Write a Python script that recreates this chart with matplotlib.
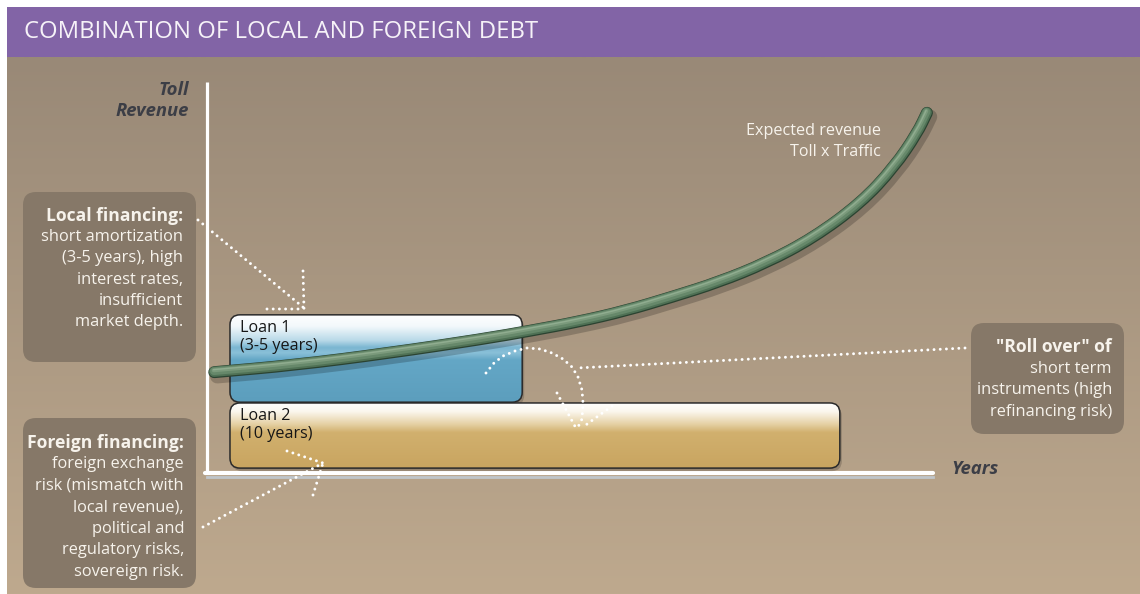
import numpy as np
import matplotlib
matplotlib.use("Agg")
import matplotlib.pyplot as plt
from matplotlib.patches import FancyBboxPatch, Rectangle, PathPatch
from matplotlib.path import Path
import matplotlib.transforms as mtransforms
from matplotlib.colors import to_rgb

# ---------------- data ----------------
title = "COMBINATION OF LOCAL AND FOREIGN DEBT"
y_label = ["Toll", "Revenue"]
x_label = "Years"

curve_years = [0.12, 1.44, 3.01, 4.56, 5.34, 6.13, 6.91, 7.69, 8.46, 9.24,
               10.02, 10.81, 11.36, 11.74, 11.90]
curve_revenue = [25.6, 27.4, 30.5, 34.1, 36.2, 38.5, 41.3, 44.9, 48.7, 53.6,
                 60.0, 69.0, 78.2, 86.9, 92.1]
curve_label = ["Expected revenue", "Toll x Traffic"]

loan_names = ["Loan 1", "Loan 2"]
loan_terms = ["(3-5 years)", "(10 years)"]
loan_start = [0.38, 0.38]
loan_end = [5.21, 10.46]
loan_bottom = [17.9, 1.0]
loan_top = [40.3, 17.7]

local_lines = ["Local financing:", "short amortization", "(3-5 years), high",
               "interest rates,", "insufficient", "market depth."]
foreign_lines = ["Foreign financing:", "foreign exchange", "risk (mismatch with",
                 "local revenue),", "political and", "regulatory risks,",
                 "sovereign risk."]
roll_lines = ['"Roll over" of', "short term", "instruments (high",
              "refinancing risk)"]

# ---------------- figure ----------------
W, H = 1140, 594
FONT = "Open Sans"
fig = plt.figure(figsize=(W / 100, H / 100), dpi=100, facecolor="white")

bg = fig.add_axes([0, 0, 1, 1], zorder=0)
bg.set_xlim(0, W)
bg.set_ylim(H, 0)
bg.axis("off")

# background gradient
top_c = np.array(to_rgb("#998977"))
bot_c = np.array(to_rgb("#bea98e"))
t = np.linspace(0, 1, 256)[:, None, None]
grad = top_c * (1 - t) + bot_c * t
bg.imshow(grad, extent=(7, W, H, 57), aspect="auto", zorder=0,
          interpolation="bilinear")
bg.set_xlim(0, W)
bg.set_ylim(H, 0)

# banner
bg.add_patch(Rectangle((7, 7), W - 7, 50, facecolor="#8264a6",
                       edgecolor="none", zorder=1))
bg.text(24, 32, title, color="#f6f2f8", fontsize=17.2, family=FONT,
        va="center", ha="left", zorder=2)

# info boxes
def info_box(x0, y0, x1, y1):
    bg.add_patch(FancyBboxPatch((x0, y0), x1 - x0, y1 - y0,
                                boxstyle="round,pad=0,rounding_size=13",
                                facecolor="#867868", edgecolor="none",
                                zorder=2))

info_box(23, 192, 196, 362)
info_box(23, 418, 196, 588)
info_box(971, 323, 1124, 434)

# axes lines
bg.plot([207, 207], [82, 473], color="white", lw=2.3, zorder=3,
        solid_capstyle="butt")
bg.plot([207, 933], [477, 477], color="#c3cfdb", lw=2.0, alpha=0.8, zorder=3)
bg.plot([205, 933], [472.5, 472.5], color="white", lw=3.0, zorder=3,
        solid_capstyle="round")

# ---------------- chart axes ----------------
ax_l, ax_r, ax_t, ax_b = 207, 933, 82, 472
ax = fig.add_axes([ax_l / W, (H - ax_b) / H, (ax_r - ax_l) / W,
                   (ax_b - ax_t) / H], zorder=1)
ax.patch.set_visible(False)
ax.axis("off")
ax.set_xlim(0, 12)
ax.set_ylim(0, 100)

px_per_x = (ax_r - ax_l) / 12
px_per_y = (ax_b - ax_t) / 100
r_px = 10

def stops_to_grad(stops, n=200):
    pos = np.array([s[0] for s in stops])
    cols = np.array([to_rgb(s[1]) for s in stops])
    tt = np.linspace(0, 1, n)
    out = np.stack([np.interp(tt, pos, cols[:, k]) for k in range(3)], axis=1)
    return out[:, None, :]

loan_grads = [
    stops_to_grad([(0, "#ffffff"), (0.14, "#f2f8fb"), (0.30, "#b8d9e8"),
                   (0.38, "#7ab6d1"), (0.44, "#8ac0d8"), (0.52, "#64a7c6"),
                   (1.0, "#5c9ebd")]),
    stops_to_grad([(0, "#ffffff"), (0.14, "#fbf7ee"), (0.33, "#e6d2a6"),
                   (0.46, "#d1b06e"), (1.0, "#c9a560")]),
]

for i in range(2):
    x0, x1 = loan_start[i], loan_end[i]
    y0, y1 = loan_bottom[i], loan_top[i]
    style = f"round,pad=0,rounding_size={r_px / px_per_x}"
    asp = px_per_x / px_per_y
    sh = FancyBboxPatch((x0, y0), x1 - x0, y1 - y0, boxstyle=style,
                        mutation_aspect=asp, facecolor="black", alpha=0.18,
                        edgecolor="none", zorder=1,
                        transform=mtransforms.offset_copy(
                            ax.transData, fig=fig, x=2, y=-3, units="dots"))
    ax.add_patch(sh)
    clip = FancyBboxPatch((x0, y0), x1 - x0, y1 - y0, boxstyle=style,
                          mutation_aspect=asp, facecolor="none",
                          edgecolor="none", zorder=2)
    ax.add_patch(clip)
    im = ax.imshow(loan_grads[i], extent=(x0, x1, y0, y1), origin="upper",
                   aspect="auto", zorder=2, interpolation="bilinear")
    im.set_clip_path(clip)
    ax.add_patch(FancyBboxPatch((x0, y0), x1 - x0, y1 - y0, boxstyle=style,
                                mutation_aspect=asp, facecolor="none",
                                edgecolor="#2a2a2a", lw=1.1, zorder=3))
    tr = mtransforms.offset_copy(ax.transData, fig=fig, x=10, y=-13,
                                 units="dots")
    ax.text(x0, y1, loan_names[i], transform=tr, fontsize=11.6, family=FONT,
            color="#161616", ha="left", va="center")
    tr2 = mtransforms.offset_copy(ax.transData, fig=fig, x=10, y=-31,
                                  units="dots")
    ax.text(x0, y1, loan_terms[i], transform=tr2, fontsize=11.6, family=FONT,
            color="#161616", ha="left", va="center")
ax.set_xlim(0, 12)
ax.set_ylim(0, 100)

# revenue curve (smooth quadratic path through the read points, tube look)
pts = np.column_stack([curve_years, curve_revenue])
verts = [tuple(pts[0])]
codes = [Path.MOVETO]
verts.append(tuple((pts[0] + pts[1]) / 2))
codes.append(Path.LINETO)
for k in range(1, len(pts) - 1):
    verts.append(tuple(pts[k]))
    verts.append(tuple((pts[k] + pts[k + 1]) / 2))
    codes += [Path.CURVE3, Path.CURVE3]
verts.append(tuple(pts[-1]))
codes.append(Path.LINETO)
curve_path = Path(verts, codes)

def off(dx, dy):
    return mtransforms.offset_copy(ax.transData, fig=fig, x=dx, y=dy,
                                   units="dots")

def tube(color, lw, dx, dy, z, alpha=1.0):
    p = PathPatch(curve_path, facecolor="none", edgecolor=color, lw=lw,
                  alpha=alpha, capstyle="round", joinstyle="round",
                  transform=off(dx, dy), zorder=z, clip_on=False)
    ax.add_patch(p)

tube("black", 10.5, 3, -4, 4, alpha=0.2)
tube("#2b4331", 8.6, 0, 0, 5)
tube("#4f7155", 7.4, -0.2, 0.4, 6)
tube("#66886a", 5.6, -0.4, 1.0, 7)
tube("#7b9a7c", 2.8, -0.6, 1.8, 8)
tube("#90ad90", 1.0, -0.8, 2.5, 9)

# ---------------- overlay (texts, dotted arrows) ----------------
ov = fig.add_axes([0, 0, 1, 1], zorder=2)
ov.patch.set_visible(False)
ov.set_xlim(0, W)
ov.set_ylim(H, 0)
ov.axis("off")

TXT = "#f7f3ec"
AXC = "#3c3e46"

def lines_right(lines, x, y0, dy, fs=11.8, fsb=12.6):
    for k, s in enumerate(lines):
        ov.text(x, y0 + k * dy, s, ha="right", va="center", family=FONT,
                fontsize=fsb if k == 0 else fs, color=TXT,
                fontweight="bold" if k == 0 else "normal")

lines_right(local_lines, 183, 216, 21.2)
lines_right(foreign_lines, 184, 443, 21.5)
lines_right(roll_lines, 1112, 347, 21.6)

ov.text(189, 90, y_label[0], ha="right", va="center", family=FONT,
        fontsize=13.3, fontweight="bold", fontstyle="italic", color=AXC)
ov.text(189, 111, y_label[1], ha="right", va="center", family=FONT,
        fontsize=13.3, fontweight="bold", fontstyle="italic", color=AXC)
ov.text(951, 469, x_label, ha="left", va="center", family=FONT,
        fontsize=13.3, fontweight="bold", fontstyle="italic", color=AXC)

ov.text(881, 131, curve_label[0], ha="right", va="center", family=FONT,
        fontsize=11.6, color=TXT)
ov.text(881, 152, curve_label[1], ha="right", va="center", family=FONT,
        fontsize=11.6, color=TXT)

def dotted(pts, spacing=6.2):
    p = np.asarray(pts, float)
    seg = np.hypot(*np.diff(p, axis=0).T)
    cum = np.concatenate([[0], np.cumsum(seg)])
    d = np.arange(0, cum[-1] + 0.01, spacing)
    xs = np.interp(d, cum, p[:, 0])
    ys = np.interp(d, cum, p[:, 1])
    ov.scatter(xs, ys, s=4.2, color="white", edgecolors="none", zorder=5)

# local financing arrow
dotted([(198, 220), (304, 308)])
dotted([(303, 271), (304, 309)])
dotted([(267, 309), (304, 309)])
# foreign financing arrow
dotted([(203, 527), (323, 463)])
dotted([(287, 451), (323, 463)])
dotted([(313, 495), (323, 463)])
# roll over
dotted([(965, 348), (577, 368)])
arc = [(486, 373), (494, 363), (503, 356), (515, 351), (527, 348), (540, 349),
       (552, 353), (563, 359), (572, 367), (578, 377), (582, 390), (583, 403),
       (582, 419), (577, 429)]
dotted(arc)
dotted([(557, 393), (577, 430)])
dotted([(612, 406), (583, 427)])

fig.savefig("out.png", dpi=100, facecolor="white")
